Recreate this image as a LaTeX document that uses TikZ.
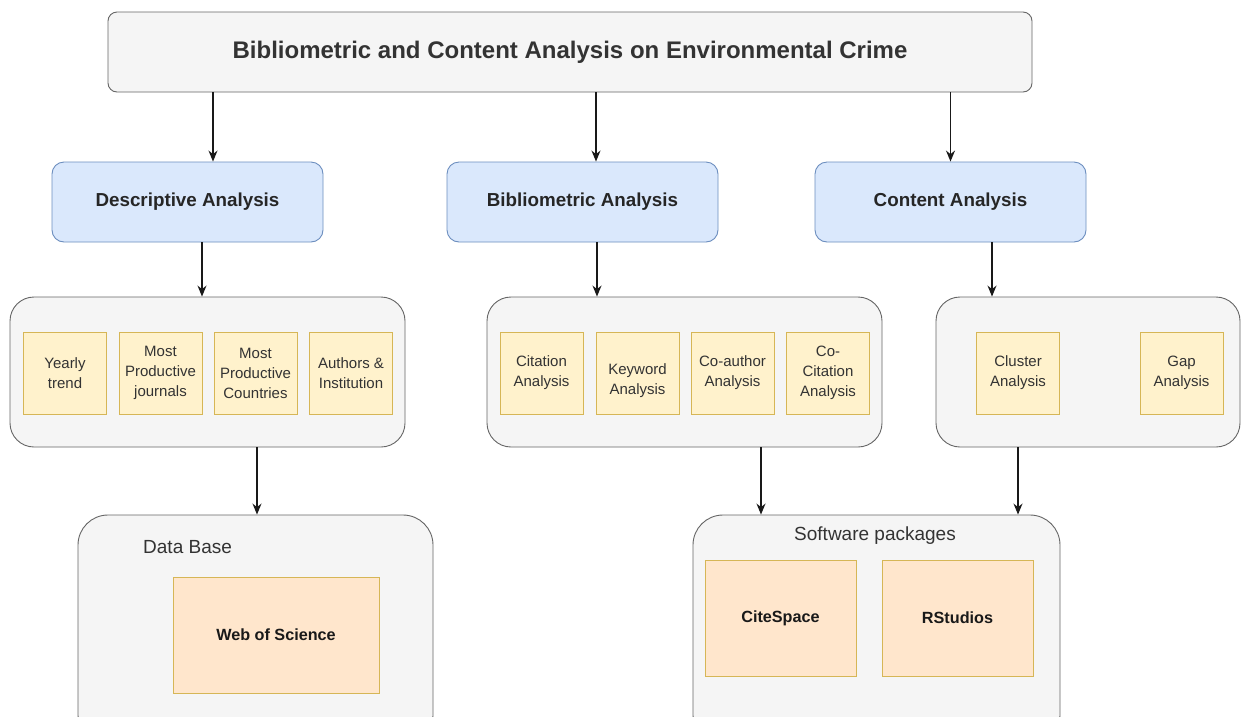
\documentclass[tikz,border=0pt]{standalone}
\usepackage{fontspec}
\setmainfont{Liberation Sans}
\usetikzlibrary{arrows.meta,calc}
\definecolor{greyfill}{HTML}{F5F5F5}
\definecolor{greyline}{HTML}{666666}
\definecolor{bluefill}{HTML}{DAE8FC}
\definecolor{blueline}{HTML}{6C8EBF}
\definecolor{yelfill}{HTML}{FFF2CC}
\definecolor{yelline}{HTML}{D6B656}
\definecolor{orfill}{HTML}{FFE6CC}
\definecolor{txtgrey}{HTML}{333333}
\tikzset{
  titlebox/.style={draw=greyline, fill=greyfill, rounded corners=9pt, line width=0.9pt,
    minimum width=924pt, minimum height=80pt, font=\fontsize{24}{28}\selectfont\bfseries, text=txtgrey},
  bluebox/.style={draw=blueline, fill=bluefill, rounded corners=12pt, line width=0.9pt,
    minimum width=271pt, minimum height=80pt, font=\fontsize{18.8}{22}\selectfont\bfseries, text=black!85},
  groupbox/.style={draw=greyline, fill=greyfill, rounded corners=24pt, line width=0.9pt,
    minimum height=150pt},
  bottombox/.style={draw=greyline, fill=greyfill, rounded corners=30pt, line width=0.9pt,
    minimum height=230pt},
  itembox/.style={draw=yelline, fill=yelfill, line width=0.9pt, minimum width=83pt,
    minimum height=82pt, align=center, font=\fontsize{15}{20}\selectfont, text=txtgrey, inner sep=1pt},
  itemtext/.style={align=center, font=\fontsize{15}{20}\selectfont, text=txtgrey, inner sep=0pt},
  toolbox/.style={draw=yelline, fill=orfill, line width=0.9pt, minimum height=116pt,
    font=\fontsize{16.2}{19}\selectfont\bfseries, text=black!90},
  grouplabel/.style={font=\fontsize{19}{22}\selectfont, text=txtgrey, inner sep=0pt},
  arr/.style={-{Stealth[length=11pt,width=9pt]}, line width=1.3pt, black!90}
}
\begin{document}
\begin{tikzpicture}[x=1pt,y=-1pt]
\useasboundingbox (0,0) rectangle (1243,716);
\clip (0,0) rectangle (1243,716);
\fill[white] (0,0) rectangle (1243,716);

\node[titlebox] (title) at (570,52) {Bibliometric and Content Analysis on Environmental Crime};

\node[bluebox] (desc) at (187.5,202) {Descriptive Analysis};
\node[bluebox] (bib) at (582.5,202) {Bibliometric Analysis};
\node[bluebox] (cont) at (950.5,202) {Content Analysis};

\node[groupbox, minimum width=395pt] (g1) at (207.5,372) {};
\node[groupbox, minimum width=395pt] (g2) at (684.5,372) {};
\node[groupbox, minimum width=304pt] (g3) at (1088,372) {};

\node[itembox] (yt) at (65,373) {Yearly\\trend};
\node[itembox] (pj) at (160.5,373) {Most\\Productive\\journals};
\node[itembox] (pc) at (255.5,373) {Most\\Productive\\Countries};
\node[itembox] (ai) at (351,373) {Authors \&\\Institution};

\node[itembox] (ca) at (541.5,373) {Citation\\Analysis};
\node[itembox] (ka) at (637.5,373) {};
\node[itemtext] (kat) at (637.5,381) {Keyword\\Analysis};
\node[itembox] (coa) at (732.5,373) {Co-author\\Analysis};
\node[itembox] (cca) at (828,373) {Co-\\Citation\\Analysis};

\node[itembox] (cl) at (1018,373) {Cluster\\Analysis};
\node[itembox] (gap) at (1181.5,373) {Gap\\Analysis};

\node[bottombox, minimum width=355pt] (db) at (255.5,630) {};
\node[bottombox, minimum width=367pt] (sw) at (876.5,630) {};

\node[grouplabel, anchor=west] (dbl) at (143,547) {Data Base};
\node[grouplabel] (swl) at (875,536) {Software packages};

\node[toolbox, minimum width=206pt] (wos) at (276,635) {Web of Science};
\node[toolbox, minimum width=151pt] (cs) at (780.5,618) {CiteSpace};
\node[toolbox, minimum width=151pt] (rs) at (957.5,618) {RStudios};

% arrows from title
\draw[arr] ([xshift=25.5pt]desc.north |- title.south) -- ([xshift=25.5pt]desc.north);
\draw[arr] ([xshift=13.5pt]bib.north |- title.south) -- ([xshift=13.5pt]bib.north);
\draw[arr] (cont.north |- title.south) -- (cont.north);

% arrows from blue boxes to groups
\draw[arr] ([xshift=14.5pt]desc.south) -- ([xshift=14.5pt]desc.south |- g1.north);
\draw[arr] ([xshift=14.5pt]bib.south) -- ([xshift=14.5pt]bib.south |- g2.north);
\draw[arr] ([xshift=41.5pt]cont.south) -- ([xshift=41.5pt]cont.south |- g3.north);

% arrows from groups to bottom boxes
\draw[arr] ([xshift=49.5pt]g1.south) -- ([xshift=49.5pt]g1.south |- db.north);
\draw[arr] ([xshift=76.5pt]g2.south) -- ([xshift=76.5pt]g2.south |- sw.north);
\draw[arr] ([xshift=-70pt]g3.south) -- ([xshift=-70pt]g3.south |- sw.north);
\end{tikzpicture}
\end{document}
